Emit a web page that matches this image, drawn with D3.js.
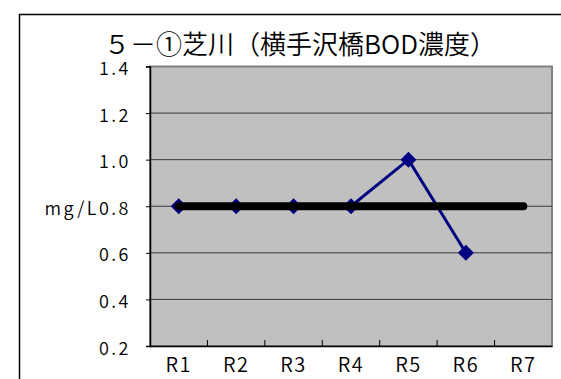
<!DOCTYPE html>
<html>
<head>
<meta charset="utf-8">
<script src="https://cdn.jsdelivr.net/npm/d3@7"></script>
<style>
  html, body { margin: 0; padding: 0; background: #fff; }
  svg { display: block; }
  text { fill: #000; }
</style>
</head>
<body>
<svg id="chart" width="561" height="379"></svg>
<script>
// BOD concentration at 横手沢橋 by year
const categories = ["R1", "R2", "R3", "R4", "R5", "R6", "R7"];
const bodValues = [0.8, 0.8, 0.8, 0.8, 1.0, 0.6];          // measured, R1–R6
const standardValues = [0.8, 0.8, 0.8, 0.8, 0.8, 0.8, 0.8]; // reference level
const yTicks = [0.2, 0.4, 0.6, 0.8, 1.0, 1.2, 1.4];
const titleText = "５－①芝川（横手沢橋BOD濃度）";
const unitLabel = "mg/L";

const cjkFont = "\"Noto Sans CJK JP\", \"Noto Sans CJK SC\", sans-serif";

const svg = d3.select("#chart");
const plot = { left: 150, top: 66.5, right: 552, bottom: 346 };

// outer chart frame (runs off the right and bottom edges)
svg.append("rect")
  .attr("x", 19.5).attr("y", 14.5)
  .attr("width", 600).attr("height", 400)
  .attr("fill", "#fff").attr("stroke", "#000").attr("stroke-width", 1.5);

const x = d3.scaleBand().domain(categories).range([plot.left, plot.right]).paddingInner(0).paddingOuter(0);
const y = d3.scaleLinear().domain([0.2, 1.4]).range([plot.bottom, plot.top]);

// plot area
svg.append("rect")
  .attr("x", plot.left).attr("y", plot.top)
  .attr("width", plot.right - plot.left).attr("height", plot.bottom - plot.top)
  .attr("fill", "#c0c0c0").attr("stroke", "#808080").attr("stroke-width", 2);

// horizontal gridlines
svg.append("g").selectAll("line")
  .data(yTicks.filter(t => t > 0.2 && t < 1.4))
  .join("line")
  .attr("x1", plot.left).attr("x2", plot.right)
  .attr("y1", d => y(d)).attr("y2", d => y(d))
  .attr("stroke", "#3a3a3a").attr("stroke-width", 1);

// y axis
const yAxis = svg.append("g")
  .attr("transform", `translate(${plot.left},0)`)
  .call(d3.axisLeft(y).tickValues(yTicks).tickFormat(d3.format(".1f")).tickSize(4).tickPadding(15));
yAxis.select(".domain").attr("stroke", "#000").attr("stroke-width", 1.5);
yAxis.selectAll(".tick line").attr("stroke", "#000");
yAxis.selectAll(".tick text")
  .attr("font-size", 18).attr("font-family", cjkFont).attr("font-weight", 350)
  .attr("letter-spacing", 2.5).attr("dy", "0.45em")
  .text(d => (Math.abs(d - 0.8) < 1e-9 ? unitLabel : "") + d3.format(".1f")(d));

// x axis
const xAxis = svg.append("g")
  .attr("transform", `translate(0,${plot.bottom})`)
  .call(d3.axisBottom(x).tickSize(0).tickPadding(12));
xAxis.select(".domain").attr("stroke", "#000").attr("stroke-width", 1.5);
xAxis.selectAll(".tick text")
  .attr("font-size", 20).attr("font-family", cjkFont).attr("font-weight", 350)
  .attr("letter-spacing", 1.5);
// tick marks on category boundaries
svg.append("g").selectAll("line")
  .data(categories.slice(1))
  .join("line")
  .attr("x1", d => x(d)).attr("x2", d => x(d))
  .attr("y1", plot.bottom).attr("y2", plot.bottom - 6)
  .attr("stroke", "#000").attr("stroke-width", 1);

const cx = d => x(d) + x.bandwidth() / 2;

// measured series
const bodData = bodValues.map((v, i) => ({ c: categories[i], v }));
svg.append("path")
  .datum(bodData)
  .attr("fill", "none").attr("stroke", "#000080").attr("stroke-width", 3)
  .attr("d", d3.line().x(d => cx(d.c)).y(d => y(d.v)));
svg.append("g").selectAll("path")
  .data(bodData)
  .join("path")
  .attr("transform", d => `translate(${cx(d.c)},${y(d.v)})`)
  .attr("d", "M0,-8L8,0L0,8L-8,0Z")
  .attr("fill", "#000080");

// reference level line
const stdData = standardValues.map((v, i) => ({ c: categories[i], v }));
svg.append("path")
  .datum(stdData)
  .attr("fill", "none").attr("stroke", "#000").attr("stroke-width", 8)
  .attr("stroke-linecap", "round")
  .attr("d", d3.line().x(d => cx(d.c)).y(d => y(d.v)));

// title
svg.append("text")
  .attr("x", 300).attr("y", 54)
  .attr("text-anchor", "middle")
  .attr("font-family", cjkFont)
  .attr("font-weight", 350)
  .attr("font-size", 26)
  .text(titleText);
</script>
</body>
</html>
